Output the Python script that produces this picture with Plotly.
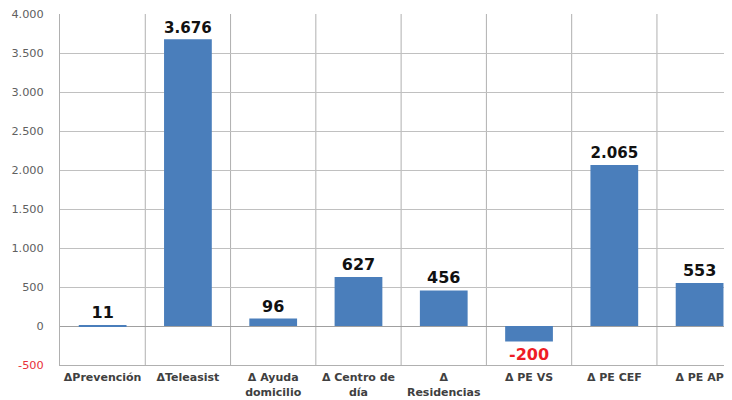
import plotly.graph_objects as go

categories = ["ΔPrevención", "ΔTeleasist", "Δ Ayuda<br>domicilio", "Δ Centro de<br>día",
              "Δ<br>Residencias", "Δ PE VS", "Δ PE CEF", "Δ PE AP"]
values = [11, 3676, 96, 627, 456, -200, 2065, 553]
tick_vals = [-500, 0, 500, 1000, 1500, 2000, 2500, 3000, 3500, 4000]
tick_text = ['<span style="color:#e8303a">-500</span>', "0", "500", "1.000", "1.500",
             "2.000", "2.500", "3.000", "3.500", "4.000"]

def fmt(v):
    s = f"{abs(v):,}".replace(",", ".")
    return ("-" if v < 0 else "") + s

text_colors = ["#ee1c25" if v < 0 else "#111111" for v in values]

fig = go.Figure(go.Bar(
    x=list(range(len(categories))), y=values,
    text=[fmt(v) for v in values],
    textposition="outside",
    textfont=dict(family="DejaVu Sans", size=16, color=text_colors, weight="bold"),
    marker=dict(color="#4a7ebb", line=dict(width=0)),
    cliponaxis=False,
    width=0.56,
))

fig.update_layout(
    width=724, height=392,
    margin=dict(l=52, r=0, t=6, b=35),
    paper_bgcolor="white", plot_bgcolor="white",
    showlegend=False,
    font=dict(family="DejaVu Sans"),
    xaxis=dict(
        tickmode="array", tickvals=list(range(len(categories))), ticktext=categories,
        range=[-0.5, 7.38], showgrid=False, zeroline=False,
        showline=True, linecolor="#b0b0b0", linewidth=1,
        tickfont=dict(family="DejaVu Sans", size=11, color="#404040", weight="bold"),
        ticks="", ticklabelstandoff=2, automargin=False,
    ),
    yaxis=dict(
        range=[-500, 4001], tickvals=tick_vals, ticktext=tick_text,
        showgrid=True, gridcolor="#c0c0c0", gridwidth=1,
        zeroline=True, zerolinecolor="#a0a0a0", zerolinewidth=1,
        showline=True, linecolor="#b0b0b0", linewidth=1,
        tickfont=dict(family="DejaVu Sans", size=11.3, color="#606060"),
        ticks="", ticklabelstandoff=13, automargin=False,
    ),
)

# vertical dividers between categories
for i in range(len(categories)):
    fig.add_shape(type="line", xref="x", yref="paper", x0=i + 0.5, x1=i + 0.5, y0=0, y1=1,
                  line=dict(color="#b0b0b0", width=1), layer="below")

fig.write_html("out.html")
